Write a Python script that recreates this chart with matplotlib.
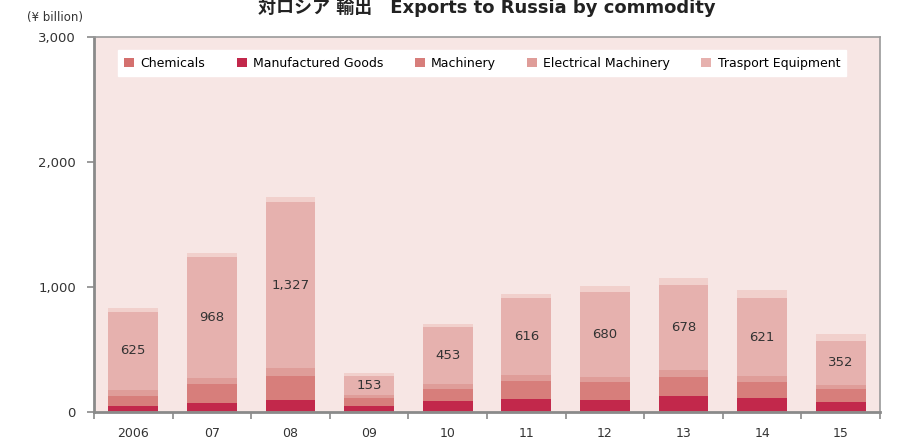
import matplotlib
matplotlib.use("Agg")
import matplotlib.pyplot as plt
import numpy as np
from matplotlib.ticker import FuncFormatter, FixedLocator

# Exports to Russia by commodity, \u00a5 billion
years = ["2006", "07", "08", "09", "10", "11", "12", "13", "14", "15"]
chemicals = [8, 8, 8, 8, 8, 8, 8, 8, 8, 8]
manufactured = [38, 62, 86, 38, 78, 94, 86, 118, 102, 70]
machinery = [80, 152, 192, 64, 96, 144, 144, 152, 128, 104]
electrical = [48, 48, 64, 24, 40, 48, 40, 56, 48, 32]
transport = [625, 968, 1327, 153, 453, 616, 680, 678, 621, 352]
others = [32, 32, 41, 23, 27, 32, 48, 58, 67, 56]

series = [
    ("Chemicals", chemicals, "#d4706e"),
    ("Manufactured Goods", manufactured, "#c2284b"),
    ("Machinery", machinery, "#d77e7b"),
    ("Electrical Machinery", electrical, "#df9d99"),
    ("Trasport Equipment", transport, "#e6b1ae"),
    (None, others, "#f1d0cc"),
]

plt.rcParams["font.family"] = ["DejaVu Sans", "Noto Sans CJK JP"]

fig = plt.figure(figsize=(8.97, 4.48), dpi=100)
ax = fig.add_axes([94 / 897, 36.3 / 448, 786 / 897, 375 / 448])
ax.set_facecolor("#f7e6e4")

x = np.arange(len(years))
bottom = np.zeros(len(years))
for name, vals, col in series:
    ax.bar(x, vals, width=0.636, bottom=bottom, color=col, label=name,
           linewidth=0, zorder=2)
    if name == "Trasport Equipment":
        for xi, b, v in zip(x, bottom, vals):
            ax.text(xi, b + v / 2, f"{v:,}", ha="center", va="center",
                    fontsize=9.5, color="#333333", zorder=3)
    bottom += np.array(vals)

ax.set_xlim(-0.5, len(years) - 0.5)
ax.set_ylim(0, 3000)
ax.set_yticks([0, 1000, 2000, 3000])
ax.yaxis.set_major_formatter(FuncFormatter(lambda v, p: f"{int(v):,}"))

ax.set_xticks(x)
ax.set_xticklabels(years)
ax.xaxis.set_minor_locator(FixedLocator(np.arange(-0.5, len(years), 1.0)))
ax.tick_params(axis="x", which="major", length=0, pad=11,
               labelsize=9, labelcolor="#333333")
ax.tick_params(axis="x", which="minor", length=5, width=1.2, color="#8a8a8a")
ax.tick_params(axis="y", length=5, width=1.2, color="#8a8a8a", pad=8,
               labelsize=9.5, labelcolor="#333333")

for side in ["left", "bottom"]:
    ax.spines[side].set_color("#8a8a8a")
    ax.spines[side].set_linewidth(2)
for side in ["top", "right"]:
    ax.spines[side].set_color("#9a9a9a")
    ax.spines[side].set_linewidth(1.2)

handles, labels = ax.get_legend_handles_labels()
leg = ax.legend(handles[:5], labels[:5], ncol=5, loc="upper center",
                bbox_to_anchor=(0.494, 0.98), fontsize=9,
                frameon=True, fancybox=False, handlelength=0.8,
                handleheight=0.8, handletextpad=0.5, columnspacing=2.5,
                borderpad=0.5)
leg.get_frame().set_facecolor("white")
leg.get_frame().set_edgecolor("white")
leg.get_frame().set_alpha(1)

fig.text(27 / 897, 1 - 18 / 448, "(\u00a5 billion)", fontsize=8.5,
         color="#333333", va="center", ha="left")
fig.text(487 / 897, 1 - 13 / 448,
         "対ロシア 輸出\u3000Exports to Russia by commodity",
         fontsize=13, fontweight="bold", ha="center", va="baseline",
         color="#222222", family=["DejaVu Sans", "Noto Sans CJK JP"])

fig.savefig("out.png", dpi=100, facecolor="white")
